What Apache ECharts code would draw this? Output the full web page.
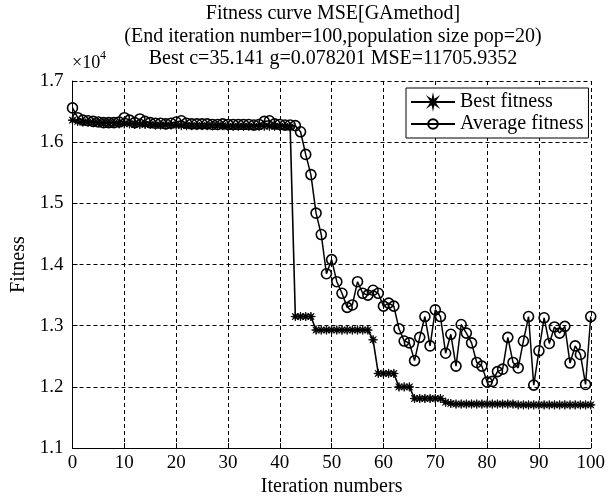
<!DOCTYPE html>
<html><head><meta charset="utf-8">
<script src="https://cdn.jsdelivr.net/npm/echarts@6/dist/echarts.min.js"></script>
<style>html,body{margin:0;padding:0;background:#fff}#c{width:608px;height:502px}</style>
</head><body><div id="c"></div>
<script>
// Fitness values (MSE), one per iteration 0..100
const bestFitness = [
16360,16340,16330,16330,16320,16320,16310,16310,16310,16300,
16300,16300,16290,16290,16290,16290,16280,16280,16280,16280,
16280,16270,16270,16270,16270,16270,16270,16270,16270,16270,
16260,16260,16260,16260,16260,16260,16260,16260,16260,16260,
16260,16260,16250,13150,13150,13150,13150,12930,12930,12930,
12930,12930,12930,12930,12930,12930,12930,12930,12770,12220,
12220,12220,12220,12000,12000,12000,11810,11810,11810,11810,
11810,11810,11750,11730,11720,11720,11720,11720,11720,11720,
11720,11720,11720,11720,11720,11720,11706,11706,11706,11706,
11706,11706,11706,11706,11706,11706,11706,11706,11706,11706,
11706];
const avgFitness = [
16560,16400,16360,16350,16340,16330,16320,16320,16320,16330,
16400,16360,16320,16380,16340,16320,16310,16310,16300,16310,
16330,16350,16310,16300,16300,16300,16300,16290,16290,16300,
16290,16290,16290,16290,16290,16280,16290,16340,16350,16300,
16290,16280,16280,16270,16170,15800,15470,14840,14490,13850,
14080,13720,13530,13300,13340,13720,13530,13500,13580,13530,
13320,13370,13320,12950,12750,12720,12430,12810,13150,12670,
13260,13150,12550,12860,12340,13020,12880,12720,12400,12340,
12080,12090,12250,12290,12810,12400,12310,12750,13150,12030,
12590,13130,12710,12980,12880,12990,12390,12670,12530,12040,
13150];
const seriesNames = ['Best fitness', 'Average fitness'];
const titleLines = [
  'Fitness curve MSE[GAmethod]',
  '(End iteration number=100,population size pop=20)',
  'Best c=35.141 g=0.078201 MSE=11705.9352'
];
const xName = 'Iteration numbers';
const yName = 'Fitness';

const FONT = "'Liberation Serif', 'Times New Roman', serif";
const starPath = 'path://M5,0 L1.6,0.66 L3.54,3.54 L0.66,1.6 L0,5 L-0.66,1.6 L-3.54,3.54 L-1.6,0.66 L-5,0 L-1.6,-0.66 L-3.54,-3.54 L-0.66,-1.6 L0,-5 L0.66,-1.6 L3.54,-3.54 L1.6,-0.66 Z';

const chart = echarts.init(document.getElementById('c'), null, {renderer: 'canvas'});
const toPairs = arr => arr.map((v, i) => [i, v]);

chart.setOption({
  animation: false,
  backgroundColor: '#fff',
  grid: {left: 72.5, right: 15, top: 81, bottom: 47, containLabel: false},
  graphic: [
    {type: 'text', x: 333, y: 14, style: {text: titleLines[0], align: 'center', verticalAlign: 'middle', font: '20px ' + FONT, fill: '#000'}},
    {type: 'text', x: 333, y: 36.5, style: {text: titleLines[1], align: 'center', verticalAlign: 'middle', font: '20px ' + FONT, fill: '#000'}},
    {type: 'text', x: 333, y: 59, style: {text: titleLines[2], align: 'center', verticalAlign: 'middle', font: '20px ' + FONT, fill: '#000'}},
    {type: 'text', x: 72, y: 63, style: {text: '\u00d710', align: 'left', verticalAlign: 'middle', font: '18px ' + FONT, fill: '#000'}},
    {type: 'text', x: 100, y: 56, style: {text: '4', align: 'left', verticalAlign: 'middle', font: '12px ' + FONT, fill: '#000'}}
  ],
  legend: {
    orient: 'vertical',
    left: 406, top: 88,
    padding: [4, 5, 4, 4],
    itemGap: 2,
    itemWidth: 44, itemHeight: 12,
    backgroundColor: '#fff',
    borderColor: '#000', borderWidth: 1, borderRadius: 0,
    textStyle: {fontFamily: FONT, fontSize: 20, color: '#000'},
    data: seriesNames
  },
  xAxis: {
    type: 'value', min: 0, max: 100, interval: 10,
    name: xName, nameLocation: 'middle', nameGap: 27,
    nameTextStyle: {fontFamily: FONT, fontSize: 20, color: '#000'},
    axisLine: {show: true, onZero: false, lineStyle: {color: '#000', width: 1}},
    axisTick: {show: true, inside: true, length: 5, lineStyle: {color: '#000'}},
    axisLabel: {fontFamily: FONT, fontSize: 19, color: '#000', margin: 5},
    splitLine: {show: true, lineStyle: {color: '#000', type: [4, 3], width: 1}}
  },
  yAxis: {
    type: 'value', min: 11000, max: 17000, interval: 1000,
    name: yName, nameLocation: 'middle', nameGap: 43, nameRotate: 90,
    nameTextStyle: {fontFamily: FONT, fontSize: 20, color: '#000'},
    axisLine: {show: true, onZero: false, lineStyle: {color: '#000', width: 1}},
    axisTick: {show: true, inside: true, length: 5, lineStyle: {color: '#000'}},
    axisLabel: {fontFamily: FONT, fontSize: 19, color: '#000', margin: 9,
      formatter: v => (v / 10000).toFixed(1)},
    splitLine: {show: true, lineStyle: {color: '#000', type: [4, 3], width: 1}}
  },
  series: [
    {
      name: seriesNames[0], type: 'line', data: toPairs(bestFitness),
      symbol: starPath, symbolSize: 9, showSymbol: true,
      lineStyle: {color: '#000', width: 1.6},
      itemStyle: {color: '#000', borderColor: '#000', borderWidth: 0.8},
      z: 3
    },
    {
      name: seriesNames[1], type: 'line', data: toPairs(avgFitness),
      symbol: 'circle', symbolSize: 10, showSymbol: true,
      lineStyle: {color: '#000', width: 1.5},
      itemStyle: {color: 'rgba(255,255,255,0)', borderColor: '#000', borderWidth: 1.6},
      z: 4
    }
  ]
});
</script>
</body></html>
